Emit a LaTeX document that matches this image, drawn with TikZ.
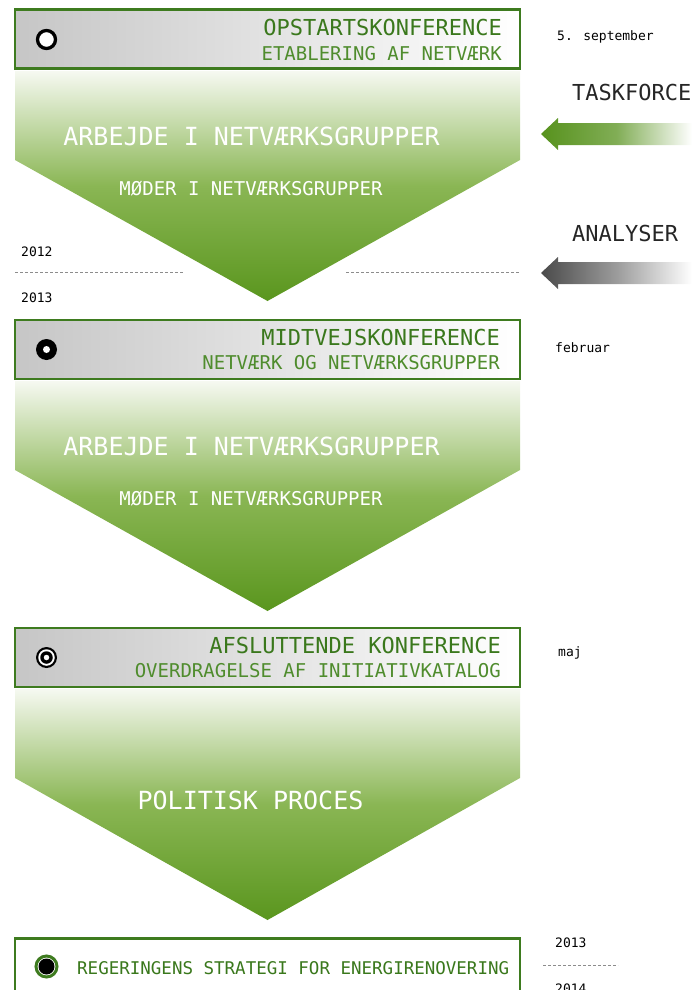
\documentclass[tikz,border=0pt]{standalone}
\usepackage{fontspec}
\setmainfont{DejaVu Sans Mono}
\usetikzlibrary{positioning}

\definecolor{framegreen}{HTML}{3E7B1F}
\definecolor{titlegreen}{HTML}{3A781C}
\definecolor{subgreen}{HTML}{4F8C2D}
\definecolor{boxgray}{HTML}{C6C6C6}
\definecolor{chevtop}{HTML}{F6F9F1}
\definecolor{chevmid}{HTML}{8AB654}
\definecolor{chevbot}{HTML}{5A961E}
\definecolor{arrowgreen}{HTML}{57921D}
\definecolor{arrowgray}{HTML}{4A4A4A}
\definecolor{sidegray}{HTML}{262626}
\definecolor{dashgray}{HTML}{8C8C8C}

\tikzstyle{stage} = [draw=framegreen,line width=2.5pt,left color=boxgray,right color=white,minimum width=505pt,minimum height=59pt,inner sep=0pt]
\tikzstyle{chevron} = [top color=chevtop,bottom color=chevbot,middle color=chevmid]
\tikzstyle{title} = [font=\fontsize{22}{22}\selectfont,text=titlegreen,anchor=base east,inner sep=0pt]
\tikzstyle{subtitle} = [font=\fontsize{19}{19}\selectfont,text=subgreen,anchor=base east,inner sep=0pt]
\tikzstyle{work} = [font=\fontsize{25}{25}\selectfont,text=white,anchor=base,inner sep=0pt]
\tikzstyle{meet} = [font=\fontsize{19}{19}\selectfont,text=white,anchor=base,inner sep=0pt]
\tikzstyle{date} = [font=\fontsize{13}{13}\selectfont,anchor=base west,inner sep=0pt]
\tikzstyle{side} = [font=\fontsize{22}{22}\selectfont,text=sidegray,anchor=base west,inner sep=0pt]
\tikzstyle{dot} = [circle,inner sep=0pt]
\tikzstyle{yearline} = [draw=dashgray,line width=1pt,dash pattern=on 3pt off 2pt]

\begin{document}
\begin{tikzpicture}[x=1pt,y=-1pt]

	\useasboundingbox (0,0) rectangle (696,990);

	% chevrons
	\shade[chevron]
		(15,71) -- (520,71) -- (520,160) -- (267.5,301) -- (15,160) -- cycle;
	\shade[chevron]
		(15,381) -- (520,381) -- (520,470) -- (267.5,611) -- (15,470) -- cycle;
	\shade[chevron]
		(15,689) -- (520,689) -- (520,778) -- (267.5,920) -- (15,778) -- cycle;

	% stages
	\node (box_1) [stage] at (267.5,39) {};
	\node (box_2) [stage] at (267.5,349.5) {};
	\node (box_3) [stage] at (267.5,657.5) {};
	\node (box_4) [stage,left color=white] at (267.5,968) {};

	\node (title_1) [title] at (502,36) {OPSTARTSKONFERENCE};
	\node (sub_1) [subtitle] at (502,60) {ETABLERING AF NETVÆRK};
	\node (title_2) [title] at (500,345) {MIDTVEJSKONFERENCE};
	\node (sub_2) [subtitle] at (500,369) {NETVÆRK OG NETVÆRKSGRUPPER};
	\node (title_3) [title] at (501,653) {AFSLUTTENDE KONFERENCE};
	\node (sub_3) [subtitle] at (501,677) {OVERDRAGELSE AF INITIATIVKATALOG};
	\node (title_4) [font=\fontsize{17.5}{17.5}\selectfont,text=titlegreen,anchor=base west,inner sep=0pt] at (77,974) {REGERINGENS STRATEGI FOR ENERGIRENOVERING};

	% markers
	\node (mark_1) [dot,draw=black,line width=3.3pt,fill=white,minimum size=18pt] at (46.5,39.5) {};
	\node (mark_2) [dot,fill=black,minimum size=21pt] at (46.5,349.5) {};
	\node (mark_2c) [dot,fill=white,minimum size=7pt] at (mark_2) {};
	\node (mark_3) [dot,fill=black,minimum size=21pt] at (46.5,657.5) {};
	\node (mark_3a) [dot,fill=white,minimum size=16.5pt] at (mark_3) {};
	\node (mark_3b) [dot,fill=black,minimum size=12.5pt] at (mark_3) {};
	\node (mark_3c) [dot,fill=white,minimum size=5.5pt] at (mark_3) {};
	\node (mark_4) [dot,draw=framegreen,line width=3pt,fill=white,minimum size=21pt] at (46.5,966.5) {};
	\node (mark_4c) [dot,fill=black,minimum size=16pt] at (mark_4) {};

	% phases
	\node (work_1) [work] at (251.5,145) {ARBEJDE I NETVÆRKSGRUPPER};
	\node (meet_1) [meet] at (251,195) {MØDER I NETVÆRKSGRUPPER};
	\node (work_2) [work] at (251.5,455) {ARBEJDE I NETVÆRKSGRUPPER};
	\node (meet_2) [meet] at (251,505) {MØDER I NETVÆRKSGRUPPER};
	\node (work_3) [work] at (250.5,809) {POLITISK PROCES};

	% dates and years
	\node (date_1) [date] at (557,41) {5. september};
	\node (date_2) [date] at (555,352) {februar};
	\node (date_3) [date] at (558,656) {maj};
	\node (year_a) [date] at (21,256) {2012};
	\node (year_b) [date] at (21,302) {2013};
	\node (year_c) [date] at (555,947) {2013};
	\node (year_d) [date] at (555,993) {2014};
	\coordinate (cut_1) at (15,272);
	\coordinate (cut_2) at (184,272);
	\coordinate (cut_3) at (346,272);
	\coordinate (cut_4) at (520,272);
	\coordinate (cut_5) at (543,965);
	\coordinate (cut_6) at (618,965);
	\path[yearline] (cut_1) -- (cut_2) (cut_3) -- (cut_4) (cut_5) -- (cut_6);

	% side inputs
	\node (taskforce) [side] at (572,100) {TASKFORCE};
	\node (analyser) [side] at (572,241) {ANALYSER};
	\shade[left color=arrowgreen,right color=white,middle color=arrowgreen!75]
		(541,134) -- (558,118) -- (558,123) -- (692,123) -- (692,145) -- (558,145) -- (558,150) -- cycle;
	\shade[left color=arrowgray,right color=white,middle color=arrowgray!55]
		(541,273) -- (558,257) -- (558,262) -- (692,262) -- (692,284) -- (558,284) -- (558,289) -- cycle;

\end{tikzpicture}
\end{document}
